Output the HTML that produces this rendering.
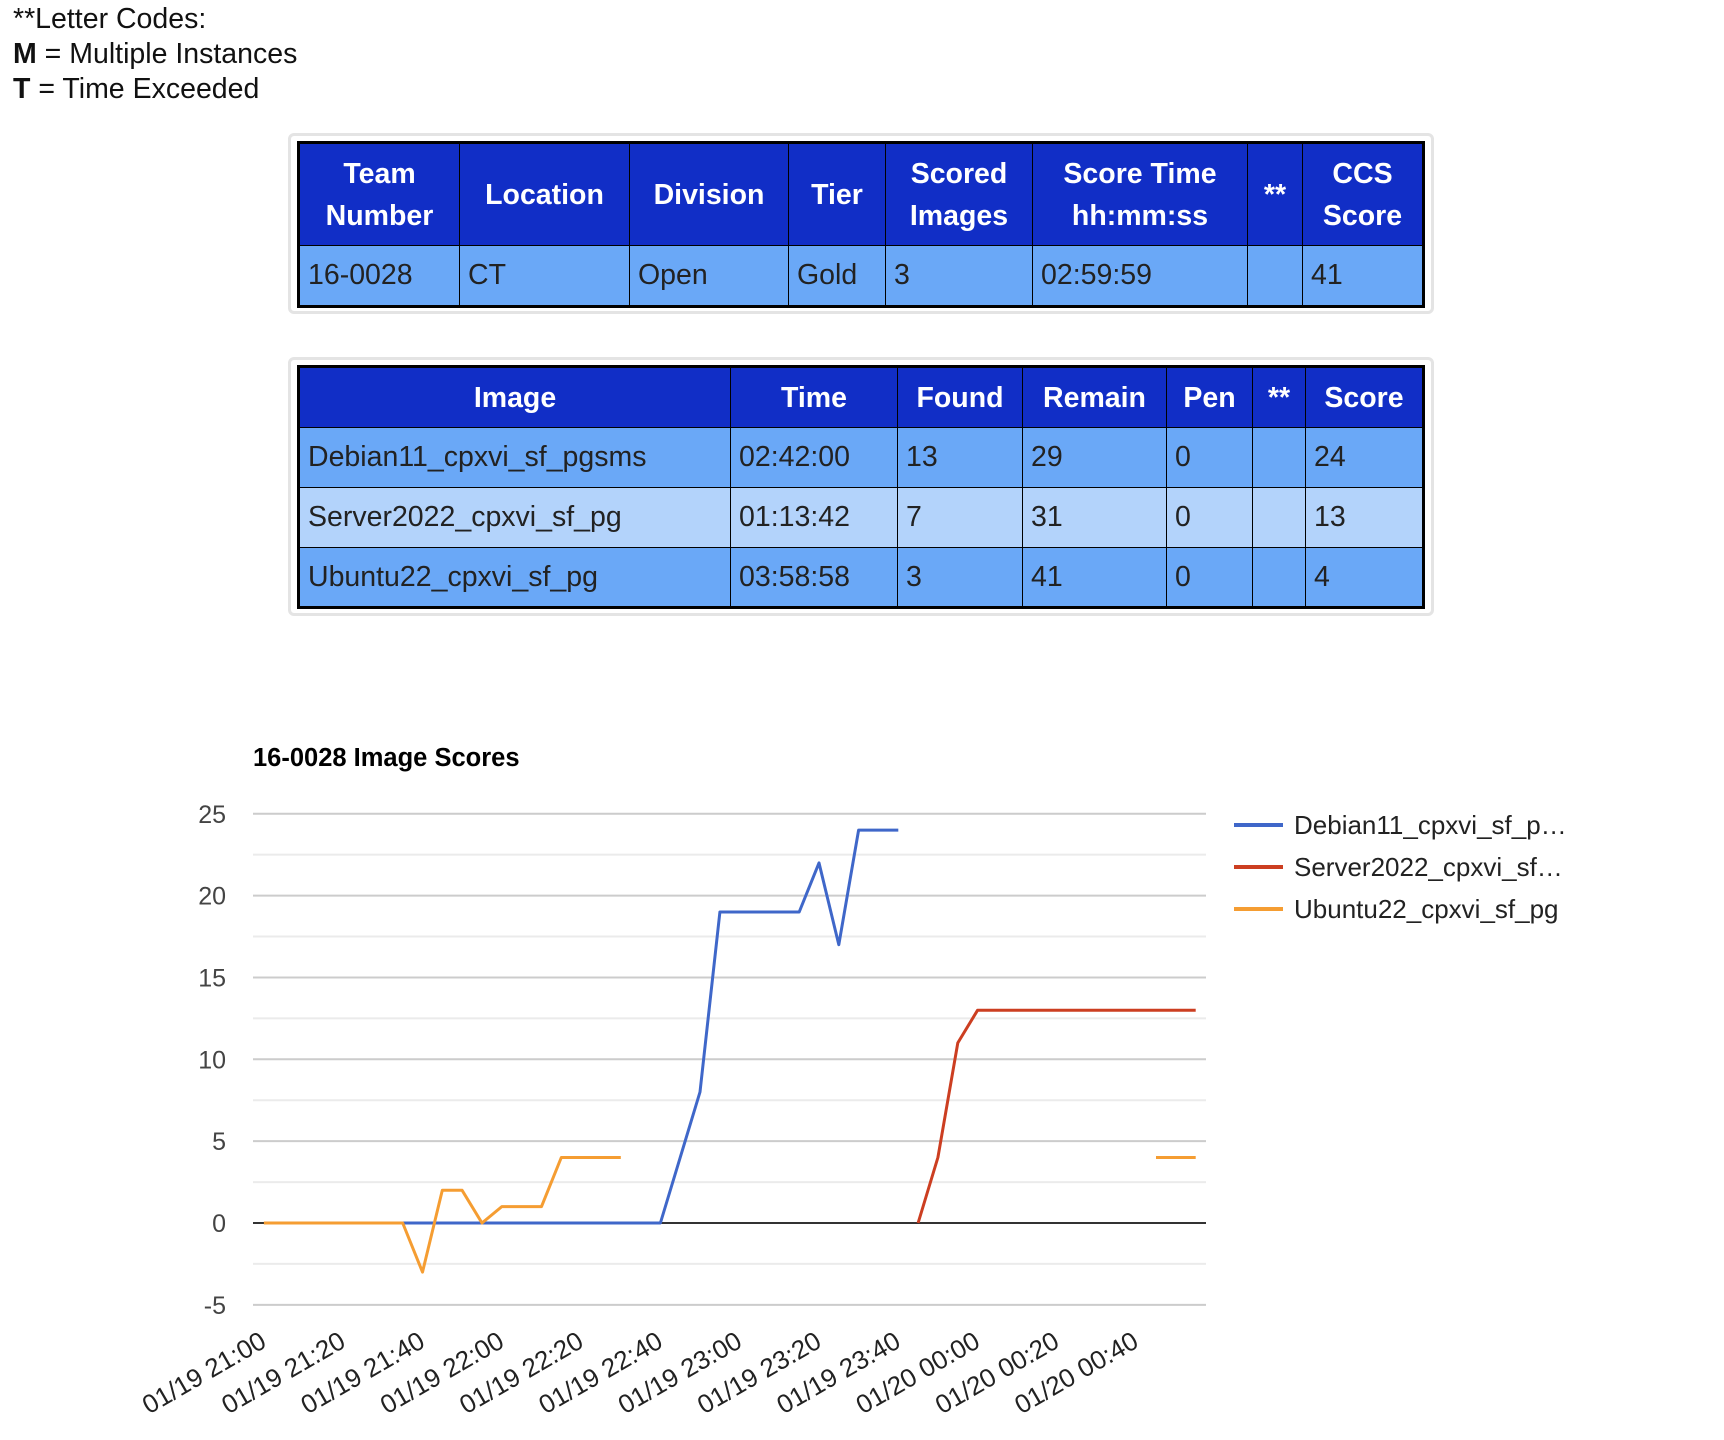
<!DOCTYPE html>
<html><head><meta charset="utf-8">
<style>
body{margin:0;width:1724px;height:1440px;background:#fff;font-family:"Liberation Sans",Arial,sans-serif;position:relative;overflow:hidden}
.codes{position:absolute;left:13px;top:2px;font-size:28.5px;line-height:35px;color:#111}
.box{position:absolute;left:288px;width:1140px;border:3px solid #e4e4e4;border-radius:6px;background:#fff}
table{position:absolute;left:6px;top:5px;border-collapse:collapse;table-layout:fixed;border:3px solid #000;font-size:28.5px}
th{background:#112ec6;color:#fff;font-weight:bold;border:1px solid #000;padding:0 2px;line-height:42px}
td{border:1px solid #000;padding:0 8px;color:#222;text-align:left;white-space:nowrap;overflow:hidden}
tr.a td{background:#6aa8f7}
tr.b td{background:#b3d3fb}
</style></head><body>
<div class="codes">**Letter Codes:<br><b>M</b> = Multiple Instances<br><b>T</b> = Time Exceeded</div>

<div class="box" style="top:133px;height:175px">
<table style="width:1125px">
<colgroup><col style="width:161px"><col style="width:170px"><col style="width:159px"><col style="width:97px"><col style="width:147px"><col style="width:215px"><col style="width:55px"><col style="width:121px"></colgroup>
<tr style="height:103px"><th>Team<br>Number</th><th>Location</th><th>Division</th><th>Tier</th><th>Scored<br>Images</th><th>Score Time<br>hh:mm:ss</th><th>**</th><th>CCS<br>Score</th></tr>
<tr class="a" style="height:61px"><td>16-0028</td><td>CT</td><td>Open</td><td>Gold</td><td>3</td><td>02:59:59</td><td></td><td>41</td></tr>
</table></div>

<div class="box" style="top:357px;height:253px">
<table style="width:1125px">
<colgroup><col style="width:432px"><col style="width:167px"><col style="width:125px"><col style="width:144px"><col style="width:86px"><col style="width:53px"><col style="width:118px"></colgroup>
<tr style="height:61px"><th>Image</th><th>Time</th><th>Found</th><th>Remain</th><th>Pen</th><th>**</th><th>Score</th></tr>
<tr class="a" style="height:60px"><td>Debian11_cpxvi_sf_pgsms</td><td>02:42:00</td><td>13</td><td>29</td><td>0</td><td></td><td>24</td></tr>
<tr class="b" style="height:60px"><td>Server2022_cpxvi_sf_pg</td><td>01:13:42</td><td>7</td><td>31</td><td>0</td><td></td><td>13</td></tr>
<tr class="a" style="height:60px"><td>Ubuntu22_cpxvi_sf_pg</td><td>03:58:58</td><td>3</td><td>41</td><td>0</td><td></td><td>4</td></tr>
</table></div>

<svg id="chart" style="position:absolute;left:0;top:700px" width="1724" height="740"></svg>
<script>
const tickLabels=["01/19 21:00","01/19 21:20","01/19 21:40","01/19 22:00","01/19 22:20","01/19 22:40","01/19 23:00","01/19 23:20","01/19 23:40","01/20 00:00","01/20 00:20","01/20 00:40"];
const yTicks=[-5,0,5,10,15,20,25];
const seriesNames=["Debian11_cpxvi_sf_p…","Server2022_cpxvi_sf…","Ubuntu22_cpxvi_sf_pg"];
const seriesColors=["#3f67c9","#cc3e21","#f59d32"];
// minutes after 21:00
const debianMin=[35,40,45,50,55,60,65,70,75,80,85,90,95,100,105,110,115,120,125,130,135,140,145,150,155,160];
const debianVal=[0,0,0,0,0,0,0,0,0,0,0,0,0,0,4,8,19,19,19,19,19,22,17,24,24,24];
const serverMin=[165,170,175,180,185,190,195,200,205,210,215,220,225,230,235];
const serverVal=[0,4,11,13,13,13,13,13,13,13,13,13,13,13,13];
const ubuntuMin=[0,5,10,15,20,25,30,35,40,45,50,55,60,65,70,75,80,85,90,null,225,230,235];
const ubuntuVal=[0,0,0,0,0,0,0,0,-3,2,2,0,1,1,1,4,4,4,4,null,4,4,4];

const svg=document.getElementById('chart');const NS='http://www.w3.org/2000/svg';
const OY=700;
const xPx=m=>263.9+m*3.965;
const yPx=v=>1223-OY-v*16.37;
const left=253,right=1206;
function el(tag,attrs,text){const e=document.createElementNS(NS,tag);for(const k in attrs)e.setAttribute(k,attrs[k]);if(text!==undefined)e.textContent=text;svg.appendChild(e);return e;}
const title=el('text',{x:253,y:66,'font-size':25.5,'font-weight':'bold',fill:'#000'},'16-0028 Image Scores');


for(let v=-5;v<=25;v+=2.5){
  const g=el('line',{x1:left,x2:right,y1:yPx(v),y2:yPx(v),stroke:(v%5===0)?'#cccccc':'#ebebeb','stroke-width':2});
  
  
}
yTicks.forEach(v=>{
  const t=el('text',{x:226,y:yPx(v)+9,'font-size':25,'text-anchor':'end',fill:'#444'},String(v));
  
  
});
const zl=el('line',{x1:left,x2:right,y1:yPx(0),y2:yPx(0),stroke:'#333','stroke-width':2});


tickLabels.forEach((s,i)=>{
  const x=xPx(i*20)+4,y=1336-OY+10;
  const t=el('text',{x:x,y:y,'font-size':26,'text-anchor':'end',fill:'#222',transform:`rotate(-30 ${x} ${y})`},s);
  
  
});
function drawSeries(mins,vals,color,name){
  let d='',pen=false;
  mins.forEach((m,i)=>{
    if(m===null||vals[i]===null){pen=false;return;}
    d+=(pen?'L':'M')+xPx(m).toFixed(1)+' '+yPx(vals[i]).toFixed(1)+' ';pen=true;
  });
  const p=el('path',{d:d,fill:'none',stroke:color,'stroke-width':3,'stroke-linejoin':'round'});
  
  
}
drawSeries(debianMin,debianVal,seriesColors[0],'debian-line');
drawSeries(serverMin,serverVal,seriesColors[1],'server-line');
drawSeries(ubuntuMin,ubuntuVal,seriesColors[2],'ubuntu-line');
seriesNames.forEach((n,i)=>{
  const y=825-OY+i*42;
  const l=el('line',{x1:1234,x2:1283,y1:y,y2:y,stroke:seriesColors[i],'stroke-width':4});
  
  
  const t=el('text',{x:1294,y:y+9,'font-size':26,fill:'#222'},n);
  
  
});
</script>
</body></html>
